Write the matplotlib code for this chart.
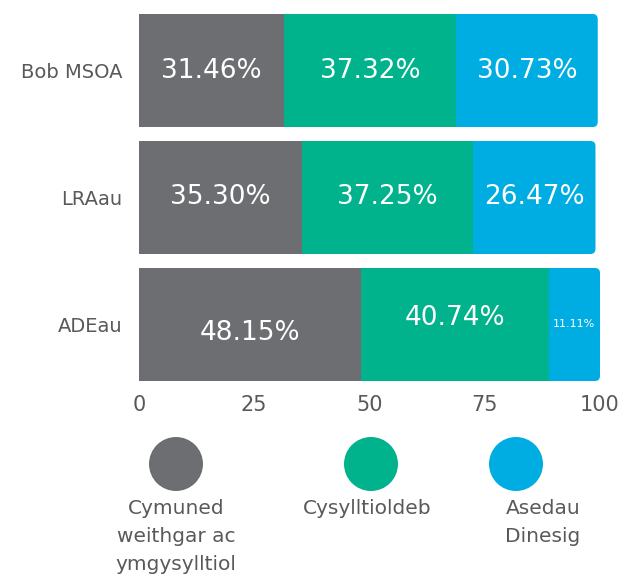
import matplotlib
matplotlib.use("Agg")
import matplotlib.pyplot as plt
from matplotlib.patches import FancyBboxPatch, Circle

plt.rcParams["font.family"] = ["DejaVu Sans"]

# --------------------------------------------------------------------------
# Data
# --------------------------------------------------------------------------
AREAS = ["Bob MSOA", "LRAau", "ADEau"]
SERIES = ["Cymuned\nweithgar ac\nymgysylltiol", "Cysylltioldeb", "Asedau\nDinesig"]
ACTIVE = [31.46, 35.30, 48.15]
CONNECTED = [37.32, 37.25, 40.74]
CIVIC = [30.73, 26.47, 11.11]
XTICKS = [0, 25, 50, 75, 100]

COLORS = ["#6d6e71", "#00b38c", "#00ade2"]
TEXT_GREY = "#58595b"

fig = plt.figure(figsize=(6.22, 5.81), dpi=100)
ax = fig.add_axes([139 / 622, 1 - 381 / 581, 461 / 622, 367 / 581])

height = 0.89
rad = 1.1  # corner radius in x units
px_per_x = 461 / 100
px_per_y = 367 / (2 + height)
aspect = px_per_x / px_per_y

ys = range(len(AREAS))
for i, y in enumerate(ys):
    segs = [ACTIVE[i], CONNECTED[i], CIVIC[i]]
    left = 0
    for k, (val, col) in enumerate(zip(segs, COLORS)):
        if k < 2:
            ax.barh(y, val, left=left, height=height, color=col, linewidth=0)
        else:
            # square left side, rounded right side
            ax.barh(y, val - rad, left=left, height=height, color=col, linewidth=0)
            box = FancyBboxPatch((left, y - height / 2), val, height,
                                 boxstyle=f"round,pad=0,rounding_size={rad}",
                                 mutation_aspect=aspect, fc=col, ec="none")
            ax.add_patch(box)
        # labels
        cx = left + val / 2
        dy = 0
        if i == 2 and k == 0:
            dy = 0.07
        if i == 2 and k == 1:
            dy = -0.05
        size = 8 if val < 15 else 19
        ax.text(cx, y + dy, f"{val:.2f}%", ha="center", va="center",
                color="white", fontsize=size)
        left += val

ax.set_xlim(0, 100)
ax.set_ylim(2 + height / 2, -height / 2)
ax.set_yticks(list(ys))
ax.set_yticklabels(AREAS, fontsize=14, color=TEXT_GREY)
ax.set_xticks(XTICKS)
ax.set_xticklabels([str(t) for t in XTICKS], fontsize=15, color=TEXT_GREY)
ax.tick_params(length=0)
ax.tick_params(axis="x", pad=10)
ax.tick_params(axis="y", pad=12)
for s in ax.spines.values():
    s.set_visible(False)

# legend: circles with labels underneath
lax = fig.add_axes([0, 0, 1, 1], zorder=-1)
lax.set_xlim(0, 622)
lax.set_ylim(581, 0)
lax.axis("off")
circle_x = [176, 371, 516]
label_x = [176, 367, 543]
for cx, lx, col, name in zip(circle_x, label_x, COLORS, SERIES):
    lax.add_patch(Circle((cx, 464), 27, fc=col, ec="none"))
    lax.text(lx, 499, name, ha="center", va="top", fontsize=14.5,
             color=TEXT_GREY, linespacing=1.6)

fig.savefig("out.png", dpi=100)
